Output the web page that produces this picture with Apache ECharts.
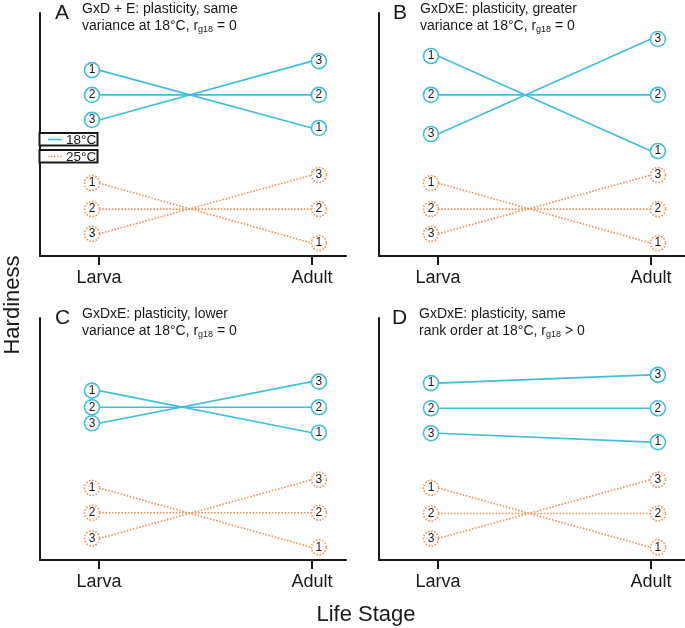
<!DOCTYPE html>
<html><head><meta charset="utf-8">
<script src="https://cdn.jsdelivr.net/npm/echarts@6/dist/echarts.min.js"></script>
<style>html,body{margin:0;padding:0;background:#fff}#c{width:685px;height:628px}</style>
</head><body><div id="c"></div>
<script>
// ---- data ----
const stages = ['Larva', 'Adult'];
const panelLetters = ['A', 'B', 'C', 'D'];
const panelTitles = [
  ['GxD + E: plasticity, same', 'variance at 18°C, r{sub|g18} = 0'],
  ['GxDxE: plasticity, greater', 'variance at 18°C, r{sub|g18} = 0'],
  ['GxDxE: plasticity, lower', 'variance at 18°C, r{sub|g18} = 0'],
  ['GxDxE: plasticity, same', 'rank order at 18°C, r{sub|g18} > 0']
];
const tempNames = ['18°C', '25°C'];
// hardiness (arbitrary units); lines listed by larva position top -> bottom
const larva18A = [76.5, 66.3, 56.0], adult18A = [52.7, 66.3, 80.2];
const larva25A = [30.0, 19.3, 9.1],  adult25A = [5.3, 19.3, 33.3];
const larva18B = [82.3, 66.3, 50.2], adult18B = [43.2, 66.3, 89.3];
const larva25B = [30.0, 19.3, 9.1],  adult25B = [5.3, 19.3, 33.3];
const larva18C = [70.0, 63.1, 56.5], adult18C = [52.6, 63.1, 73.7];
const larva25C = [29.8, 19.5, 8.9],  adult25C = [5.2, 19.5, 33.2];
const larva18D = [73.1, 62.7, 52.4], adult18D = [76.5, 62.7, 48.7];
const larva25D = [29.8, 19.2, 8.9],  adult25D = [5.2, 19.2, 33.2];
const larvaLabels = ['1', '2', '3'];
const adultLabels18 = [['1','2','3'], ['1','2','3'], ['1','2','3'], ['3','2','1']];
const adultLabels25 = ['1', '2', '3'];

const panels = [
  {l18: larva18A, a18: adult18A, l25: larva25A, a25: adult25A},
  {l18: larva18B, a18: adult18B, l25: larva25B, a25: adult25B},
  {l18: larva18C, a18: adult18C, l25: larva25C, a25: adult25C},
  {l18: larva18D, a18: adult18D, l25: larva25D, a25: adult25D}
];

// ---- style / layout ----
const CYAN = '#40BEDB', ORANGE = '#F2925A', INK = '#1a1a1a';
const FONT = 'Liberation Sans, Arial, sans-serif';
const gridPos = [
  {left: 40, top: 13, width: 306, height: 243},
  {left: 379, top: 13, width: 306, height: 243},
  {left: 40, top: 318, width: 306, height: 242},
  {left: 379, top: 318, width: 306, height: 242}
];
const titlePos = [
  {x: 55, y: 2}, {x: 393, y: 2}, {x: 55, y: 307}, {x: 392, y: 307}
];

const grid = [], xAxis = [], yAxis = [], series = [], title = [];
gridPos.forEach((g, p) => {
  grid.push(Object.assign({containLabel: false}, g));
  xAxis.push({
    type: 'value', gridIndex: p, min: -0.277, max: 1.16,
    axisLine: {show: true, onZero: false, lineStyle: {color: INK, width: 2}},
    axisTick: {show: true, customValues: [0, 1], length: 9, lineStyle: {color: INK, width: 2}},
    axisLabel: {show: true, customValues: [0, 1], formatter: v => stages[Math.round(v)],
      fontSize: 18, margin: 13, color: INK, fontFamily: FONT},
    splitLine: {show: false}
  });
  yAxis.push({
    type: 'value', gridIndex: p, min: 0, max: 100,
    axisLine: {show: true, onZero: false, lineStyle: {color: INK, width: 2}},
    axisTick: {show: false}, axisLabel: {show: false}, splitLine: {show: false}
  });
  const tp = titlePos[p];
  title.push({text: panelLetters[p], left: tp.x, top: tp.y + 1, padding: 0,
    textStyle: {fontSize: 21, fontWeight: 'normal', color: INK, fontFamily: FONT}});
  title.push({text: panelTitles[p].join('\n'), left: tp.x + 27, top: tp.y - 2, padding: 0,
    textStyle: {fontSize: 14, fontWeight: 'normal', color: INK, fontFamily: FONT, lineHeight: 17.5,
      rich: {sub: {fontSize: 9, color: INK, fontFamily: FONT, padding: [7, 0, 0, 0]}}}});

  const d = panels[p];
  [[d.l18, d.a18, adultLabels18[p], CYAN, 'solid', 0], [d.l25, d.a25, adultLabels25, ORANGE, 'dotted', 1]]
    .forEach(([lv, av, al, col, typ, t]) => {
      for (let i = 0; i < 3; i++) {
        series.push({
          type: 'line', name: tempNames[t], xAxisIndex: p, yAxisIndex: p,
          symbol: 'circle', symbolSize: 15, silent: true,
          lineStyle: {color: col, width: 1.6, type: typ},
          itemStyle: {color: '#fff', borderColor: col, borderWidth: 1.6, borderType: typ},
          label: {show: true, position: 'inside', fontSize: 12, color: INK, fontFamily: FONT},
          data: [
            {value: [0, lv[i]], symbolOffset: [-7, 0], label: {formatter: larvaLabels[i]}},
            {value: [1, av[i]], symbolOffset: [7, 0], label: {formatter: al[i]}}
          ]
        });
      }
    });
});

const legendBox = (y, col, typ, txt) => [
  {type: 'rect', shape: {x: 39.5, y: y, width: 58, height: 12.5},
   style: {fill: '#fff', stroke: INK, lineWidth: 2}, z: 100},
  {type: 'line', shape: {x1: 48, y1: y + 6.5, x2: 62, y2: y + 6.5},
   style: {stroke: col, lineWidth: 1.6, lineDash: typ === 'dotted' ? [1.5, 1.5] : null}, z: 101},
  {type: 'text', x: 66, y: y + 7, style: {text: txt, fontSize: 13.5, fill: INK, fontFamily: FONT,
   textVerticalAlign: 'middle', verticalAlign: 'middle'}, z: 101}
];

const graphic = [
  ...legendBox(133, CYAN, 'solid', tempNames[0]),
  ...legendBox(150, ORANGE, 'dotted', tempNames[1]),
  {type: 'text', x: 13, y: 305, rotation: Math.PI / 2,
   style: {text: 'Hardiness', fontSize: 22, fill: INK, fontFamily: FONT, align: 'center', verticalAlign: 'middle'}},
  {type: 'text', x: 366, y: 615,
   style: {text: 'Life Stage', fontSize: 22, fill: INK, fontFamily: FONT, align: 'center', verticalAlign: 'middle'}}
];

const chart = echarts.init(document.getElementById('c'), null, {renderer: 'canvas'});
chart.setOption({animation: false, backgroundColor: '#fff', title, grid, xAxis, yAxis, series, graphic});
</script></body></html>
